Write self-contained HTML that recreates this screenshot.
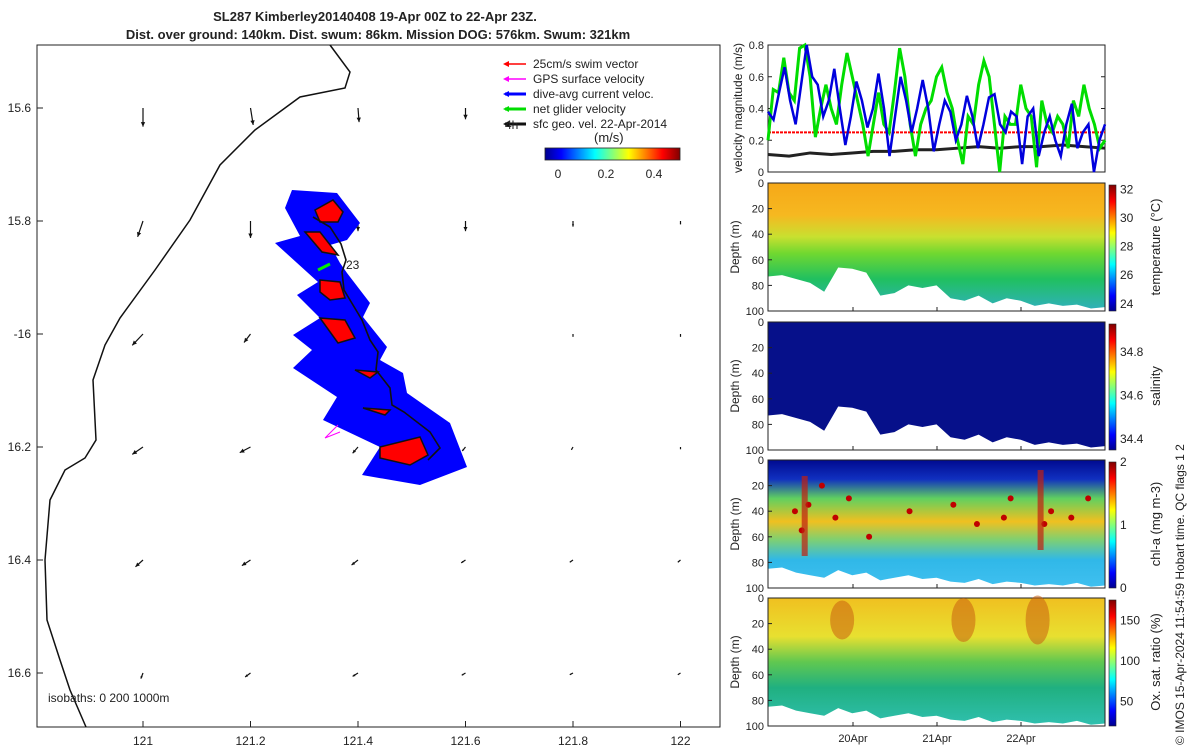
<!DOCTYPE html>
<html><head><meta charset="utf-8"><style>
body{margin:0;background:#fff;font-family:"Liberation Sans",sans-serif}
svg text{font-family:"Liberation Sans",sans-serif;fill:#222}
</style></head><body>
<svg id="s" width="1200" height="750" xmlns="http://www.w3.org/2000/svg">
<defs>
<linearGradient id="jetH" x1="0" x2="1" y1="0" y2="0">
<stop offset="0" stop-color="#00008f"/><stop offset="0.12" stop-color="#0000ff"/><stop offset="0.37" stop-color="#00ffff"/><stop offset="0.62" stop-color="#ffff00"/><stop offset="0.87" stop-color="#ff0000"/><stop offset="1" stop-color="#800000"/></linearGradient>
<linearGradient id="jetV" x1="0" x2="0" y1="1" y2="0">
<stop offset="0" stop-color="#00008f"/><stop offset="0.12" stop-color="#0000ff"/><stop offset="0.37" stop-color="#00ffff"/><stop offset="0.62" stop-color="#ffff00"/><stop offset="0.87" stop-color="#ff0000"/><stop offset="1" stop-color="#800000"/></linearGradient>
<linearGradient id="gT" x1="0" x2="0" y1="0" y2="1"><stop offset="0" stop-color="#f6a818"/><stop offset="0.25" stop-color="#f6b820"/><stop offset="0.42" stop-color="#c8e030"/><stop offset="0.55" stop-color="#70d830"/><stop offset="0.75" stop-color="#20c060"/><stop offset="1" stop-color="#30b0c0"/></linearGradient>
<linearGradient id="gC" x1="0" x2="0" y1="0" y2="1"><stop offset="0" stop-color="#000a90"/><stop offset="0.15" stop-color="#1030c0"/><stop offset="0.3" stop-color="#60d060"/><stop offset="0.48" stop-color="#f0c020"/><stop offset="0.62" stop-color="#80d070"/><stop offset="0.78" stop-color="#30b8e8"/><stop offset="1" stop-color="#40c0f0"/></linearGradient>
<linearGradient id="gO" x1="0" x2="0" y1="0" y2="1"><stop offset="0" stop-color="#f0c020"/><stop offset="0.3" stop-color="#e8e030"/><stop offset="0.5" stop-color="#60c850"/><stop offset="0.7" stop-color="#20b080"/><stop offset="1" stop-color="#30c0b0"/></linearGradient>
</defs>
<text x="375" y="21" text-anchor="middle" font-size="13" font-weight="bold">SL287 Kimberley20140408 19-Apr 00Z to 22-Apr 23Z.</text>
<text x="378" y="39" text-anchor="middle" font-size="13" font-weight="bold">Dist. over ground: 140km. Dist. swum: 86km. Mission DOG: 576km. Swum: 321km</text>
<g id="map"></g>
<g id="right"></g>
<text transform="translate(1184,745) rotate(-90)" font-size="12">© IMOS 15-Apr-2024 11:54:59 Hobart time. QC flags 1  2</text>
</svg>
<script>
const NS="http://www.w3.org/2000/svg";
function E(t,a,p){const e=document.createElementNS(NS,t);for(const k in a)e.setAttribute(k,a[k]);(p||document.getElementById('s')).appendChild(e);return e;}
const lonTicks=[121,121.2,121.4,121.6,121.8,122];
const latTicks=[15.6,15.8,16,16.2,16.4,16.6];
const latLabels=["15.6","15.8","-16","16.2","16.4","16.6"];
const arrowU=[[0,0.005,0.002,0,0,0],[-0.01,0,0,0,0,0],[-0.02,-0.012,0,0,0,0],[-0.02,-0.02,-0.01,-0.006,-0.003,0],[-0.014,-0.016,-0.012,-0.008,-0.006,-0.005],[-0.004,-0.01,-0.01,-0.007,-0.006,-0.005]];
const arrowV=[[0.033,0.03,0.025,0.02,0,0],[0.028,0.03,0.018,0.018,0.01,0.006],[0.02,0.015,0.01,0,0.005,0.005],[0.013,0.01,0.011,0.007,0.005,0.004],[0.012,0.01,0.009,0.005,0.004,0.004],[0.01,0.007,0.006,0.004,0.003,0.003]];
const sx=l=>143+(l-121)*537.5, sy=l=>108+(l-15.6)*565;
const m=document.getElementById('map');
E('rect',{x:37,y:45,width:683,height:682,fill:'none',stroke:'#222','stroke-width':1},m);
lonTicks.forEach(l=>{const t=E('text',{x:sx(l),y:745,'text-anchor':'middle','font-size':12},m);t.textContent=String(l);
E('line',{x1:sx(l),x2:sx(l),y1:727,y2:721,stroke:'#222'},m);});
latTicks.forEach((l,i)=>{const t=E('text',{x:31,y:sy(l)+4,'text-anchor':'end','font-size':12},m);t.textContent=latLabels[i];
E('line',{x1:37,x2:43,y1:sy(l),y2:sy(l),stroke:'#222'},m);});
E('polyline',{points:"330,45 350,72 345,88 300,97 255,130 220,165 190,220 155,270 120,318 105,345 93,380 96,440 85,458 65,470 50,500 45,560 47,620 60,660 70,690 86,727",fill:'none',stroke:'#111','stroke-width':1.5,},m);
latTicks.forEach((la,i)=>lonTicks.forEach((lo,j)=>{
 const x0=sx(lo),y0=sy(la),x1=x0+arrowU[i][j]*537.5,y1=y0+arrowV[i][j]*565;
 const len=Math.hypot(x1-x0,y1-y0);
 const a=E('line',{x1:x0,y1:y0,x2:x1,y2:y1,stroke:'#111','stroke-width':1.2},m);
 
 
 const ang=Math.atan2(y1-y0,x1-x0),h=Math.min(5,len*0.45);
 E('polygon',{points:`${x1},${y1} ${x1-h*Math.cos(ang-0.45)},${y1-h*Math.sin(ang-0.45)} ${x1-h*Math.cos(ang+0.45)},${y1-h*Math.sin(ang+0.45)}`,fill:'#111'},m);
}));
E('polygon',{points:"292,190 337,193 360,223 347,240 330,245 340,263 347,273 370,303 363,317 387,347 380,360 403,373 407,393 427,407 450,423 467,467 420,485 362,475 380,447 323,420 337,397 293,368 312,350 293,335 320,318 297,295 318,282 275,243 300,236 285,208",fill:'#0000ff',},m);
[["315,210 333,200 343,212 338,222 320,222"],["305,232 320,232 338,255 322,252"],["320,280 340,282 345,298 330,300 320,292"],["320,318 345,320 355,338 338,343"],["355,370 378,372 370,378"],["363,408 390,410 385,415"],["380,447 420,437 428,455 410,465 380,458"]].forEach(p=>E('polygon',{points:p[0],fill:'#ff0000',stroke:'#111','stroke-width':1.5},m));
E('polyline',{points:"313,217 330,227 341,244 346,260 342,272 344,290 362,320 370,340 378,352 376,370 390,388 392,405 404,412 430,432 440,448 428,460",fill:'none',stroke:'#111','stroke-width':1.6,},m);
E('line',{x1:318,y1:270,x2:330,y2:264,stroke:'#00ee00','stroke-width':3},m);
E('path',{d:"M325 438 L335 428 M325 438 L340 432 M325 438 L338 425",stroke:'#ff00ff','stroke-width':1,fill:'none'},m);
let t=E('text',{x:346,y:269,'font-size':12},m);t.textContent="23";
t=E('text',{x:48,y:702,'font-size':12},m);t.textContent="isobaths: 0   200  1000m";
const legCol=["#ff0000","#ff00ff","#0000ff","#00dd00","#111"],legTxt=["25cm/s swim vector","GPS surface velocity","dive-avg current veloc.","net glider velocity","sfc geo. vel. 22-Apr-2014"];
legTxt.forEach((s,i)=>{const y=64+i*15;
 E('line',{x1:505,x2:526,y1:y,y2:y,stroke:legCol[i],'stroke-width':i>=2?3:1.5},m);
 E('polygon',{points:`503,${y} 509,${y-3} 509,${y+3}`,fill:legCol[i]},m);
 const tt=E('text',{x:533,y:y+4,'font-size':12},m);tt.textContent=s;
 
 });
t=E('text',{x:505,y:129,'font-size':12},m);t.textContent="4h";
t=E('text',{x:594,y:142,'font-size':13},m);t.textContent="(m/s)";
E('rect',{x:545,y:148,width:135,height:12,fill:'url(#jetH)',stroke:'#222','stroke-width':0.8,},m);
[["0",558],["0.2",606],["0.4",654]].forEach(a=>{const q=E('text',{x:a[1],y:178,'text-anchor':'middle','font-size':12},m);q.textContent=a[0];});

const r=document.getElementById('right');
const X0=768,X1=1105;
const blueVel=[0.38,0.33,0.5,0.66,0.45,0.3,0.55,0.8,0.6,0.55,0.35,0.45,0.65,0.4,0.17,0.35,0.57,0.45,0.28,0.4,0.62,0.4,0.1,0.35,0.6,0.45,0.25,0.4,0.58,0.4,0.13,0.3,0.45,0.38,0.2,0.3,0.48,0.35,0.15,0.3,0.47,0.49,0.3,0.25,0.38,0.35,0.05,0.35,0.4,0.1,0.25,0.35,0.2,0.1,0.3,0.43,0.15,0.25,0.3,0.0,0.2,0.3];
const greenVel=[0.2,0.52,0.5,0.72,0.5,0.45,0.78,0.8,0.6,0.22,0.4,0.55,0.4,0.3,0.55,0.75,0.6,0.45,0.3,0.1,0.3,0.5,0.3,0.25,0.5,0.78,0.6,0.3,0.1,0.3,0.4,0.45,0.6,0.66,0.5,0.4,0.2,0.05,0.35,0.3,0.55,0.7,0.6,0.3,0.0,0.35,0.3,0.3,0.55,0.4,0.35,0.03,0.45,0.3,0.25,0.35,0.3,0.15,0.45,0.35,0.55,0.4,0.3,0.15,0.2];
const blackVel=[0.11,0.1,0.12,0.11,0.12,0.13,0.13,0.14,0.14,0.15,0.16,0.15,0.16,0.16,0.17,0.16,0.15];
const swimRef=[0.25];
const velTicks=[0,0.2,0.4,0.6,0.8];
const vy=v=>172-v*158.75;
E('rect',{x:X0,y:45,width:X1-X0,height:127,fill:'#fff',stroke:'#222'},r);
velTicks.forEach(v=>{const q=E('text',{x:X0-4,y:vy(v)+4,'text-anchor':'end','font-size':11},r);q.textContent=String(v);
E('line',{x1:X0,x2:X0+4,y1:vy(v),y2:vy(v),stroke:'#222'},r);E('line',{x1:X1,x2:X1-4,y1:vy(v),y2:vy(v),stroke:'#222'},r);});
t=E('text',{transform:`translate(742,108) rotate(-90)`,'text-anchor':'middle','font-size':12},r);t.textContent="velocity magnitude (m/s)";
function line(arr,col,w,name){const pts=arr.map((v,i)=>`${X0+i*(X1-X0)/(arr.length-1)},${vy(v)}`).join(' ');
 const p=E('polyline',{points:pts,fill:'none',stroke:col,'stroke-width':w},r);}
E('line',{x1:X0,x2:X1,y1:vy(swimRef[0]),y2:vy(swimRef[0]),stroke:'#ff0000','stroke-width':2,'stroke-dasharray':'3,1'},r);
line(blackVel,'#222',3,'surface-geo-velocity-line');
line(greenVel,'#00dd00',3,'net-glider-velocity-line');
line(blueVel,'#0000dd',2.5,'dive-avg-current-line');
const panels=[{y:183,fill:'url(#gT)',lab:'temperature (°C)',cb:[[24,"24"],[26,"26"],[28,"28"],[30,"30"],[32,"32"]],cmin:23.5,cmax:32.3,name:'temperature-section',bd:0},
{y:322,fill:'#06108a',lab:'salinity',cb:[[34.4,"34.4"],[34.6,"34.6"],[34.8,"34.8"]],cmin:34.35,cmax:34.93,name:'salinity-section',bd:0},
{y:460,fill:'url(#gC)',lab:'chl-a (mg m-3)',cb:[[0,"0"],[1,"1"],[2,"2"]],cmin:0,cmax:2,name:'chla-section',bd:1},
{y:598,fill:'url(#gO)',lab:'Ox. sat. ratio (%)',cb:[[50,"50"],[100,"100"],[150,"150"]],cmin:20,cmax:175,name:'oxygen-section',bd:1}];
const bottomDepthUpper=[73,72,75,78,85,66,67,70,88,86,80,82,80,90,92,88,94,90,92,96,94,96,95,98,97];
const bottomDepthLower=[85,84,88,90,92,86,90,88,94,92,90,93,92,95,96,93,97,95,96,98,97,98,96,99,98];
const H=128;
panels.forEach((P,k)=>{
 const bd=P.bd?bottomDepthLower:bottomDepthUpper;
 const g=E('g',{},r);
 E('rect',{x:X0,y:P.y,width:X1-X0,height:H,fill:P.fill},g);
 let pts=`${X0},${P.y+H} `+bd.map((d,i)=>`${X0+i*(X1-X0)/(bd.length-1)},${P.y+d*H/100}`).join(' ')+` ${X1},${P.y+H}`;
 E('polygon',{points:pts,fill:'#fff'},g);
 E('rect',{x:X0,y:P.y,width:X1-X0,height:H,fill:'none',stroke:'#222'},g);
 [0,20,40,60,80,100].forEach(d=>{const q=E('text',{x:X0-4,y:P.y+d*H/100+4,'text-anchor':'end','font-size':11},g);q.textContent=d;
  E('line',{x1:X0,x2:X0+4,y1:P.y+d*H/100,y2:P.y+d*H/100,stroke:'#222'},g);});
 const yl=E('text',{transform:`translate(739,${P.y+64}) rotate(-90)`,'text-anchor':'middle','font-size':12},g);yl.textContent="Depth (m)";
 E('rect',{x:1109,y:P.y+2,width:7,height:H-2,fill:'url(#jetV)',stroke:'#222','stroke-width':0.6},g);
 P.cb.forEach(c=>{const yy=P.y+H-(c[0]-P.cmin)/(P.cmax-P.cmin)*(H-2);const w=E('text',{x:1120,y:yy+4,'font-size':12},g);w.textContent=c[1];});
 const cl=E('text',{transform:`translate(1160,${P.y+64}) rotate(-90)`,'text-anchor':'middle','font-size':13},g);cl.textContent=P.lab;
 [853,937,1021].forEach(x=>E('line',{x1:x,x2:x,y1:P.y+H,y2:P.y+H-4,stroke:'#222'},g));
});
const chlDotsX=[0.08,0.1,0.12,0.16,0.2,0.24,0.3,0.42,0.55,0.62,0.7,0.72,0.82,0.84,0.9,0.95];
const chlDotsD=[40,55,35,20,45,30,60,40,35,50,45,30,50,40,45,30];
chlDotsX.forEach((f,i)=>{const c=E('circle',{cx:X0+f*(X1-X0),cy:460+chlDotsD[i]*1.28,r:3,fill:'#c00000'},r);

});
E('rect',{x:X0+0.1*337,y:476,width:6,height:80,fill:'#c02010',opacity:0.7},r);
E('rect',{x:X0+0.8*337,y:470,width:6,height:80,fill:'#c02010',opacity:0.7},r);
[[0.22,0.3],[0.58,0.4],[0.8,0.5]].forEach(a=>E('ellipse',{cx:X0+a[0]*337,cy:620,rx:12,ry:25*a[1]+12,fill:'#c86010',opacity:0.55},r));
[["20Apr",853],["21Apr",937],["22Apr",1021]].forEach(a=>{const q=E('text',{x:a[1],y:742,'text-anchor':'middle','font-size':11},r);q.textContent=a[0];});
</script>
</body></html>
